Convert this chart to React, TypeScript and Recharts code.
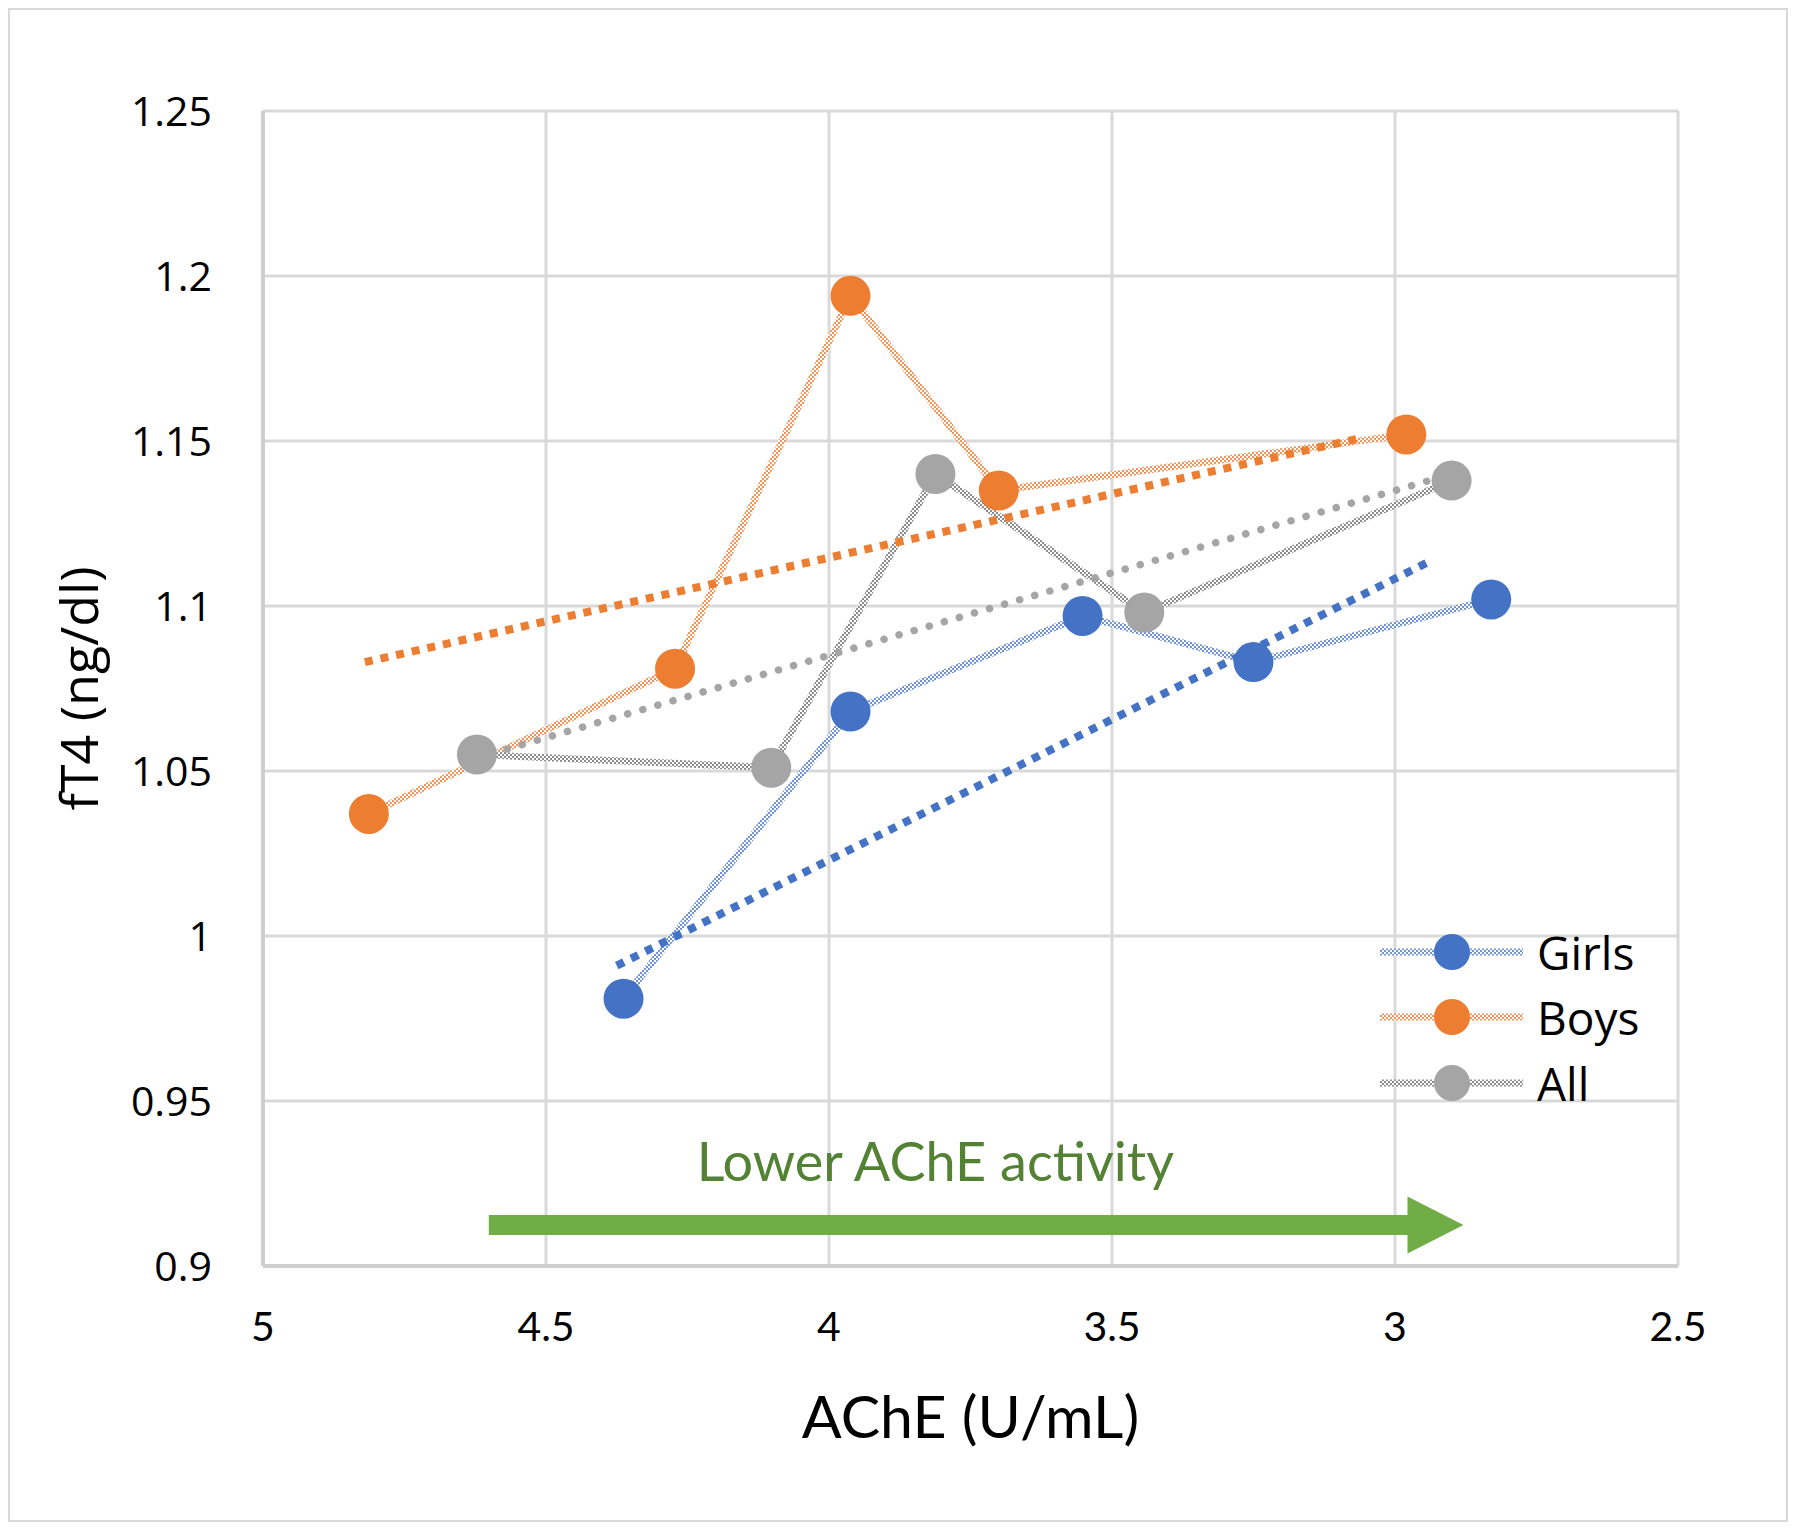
import {
  LineChart,
  Line,
  XAxis,
  YAxis,
  CartesianGrid,
  Legend,
  ReferenceLine,
  ReferenceDot,
} from "recharts";

// AChE (U/mL) on x, fT4 (ng/dl) on y
const girlsAChE = [4.363, 3.962, 3.552, 3.25, 2.83];
const girlsFT4 = [0.981, 1.068, 1.097, 1.083, 1.102];
const boysAChE = [4.813, 4.272, 3.962, 3.7, 2.98];
const boysFT4 = [1.037, 1.081, 1.194, 1.135, 1.152];
const allAChE = [4.622, 4.102, 3.812, 3.443, 2.9];
const allFT4 = [1.055, 1.051, 1.14, 1.098, 1.138];

// linear trendline end points
const girlsTrendAChE = [4.375, 2.933];
const girlsTrendFT4 = [0.991, 1.114];
const boysTrendAChE = [4.82, 3.058];
const boysTrendFT4 = [1.083, 1.151];
const allTrendAChE = [4.622, 2.9];
const allTrendFT4 = [1.054, 1.14];

const xTicks = [5, 4.5, 4, 3.5, 3, 2.5];
const yTicks = [0.9, 0.95, 1, 1.05, 1.1, 1.15, 1.2, 1.25];

// green arrow annotation ("Lower AChE activity")
const arrowAChE = [4.601, 2.879];
const arrowFT4 = 0.9124;
const noteAChE = 3.812;
const noteFT4 = 0.9258;

const zip = (xs: number[], ys: number[]) => xs.map((x, i) => ({ x, y: ys[i] }));

const series = [
  { key: "girls", name: "Girls", color: "#4472C4", hatch: "#6F93D6", x: girlsAChE, y: girlsFT4, tx: girlsTrendAChE, ty: girlsTrendFT4, round: false },
  { key: "boys", name: "Boys", color: "#ED7D31", hatch: "#F1955A", x: boysAChE, y: boysFT4, tx: boysTrendAChE, ty: boysTrendFT4, round: false },
  { key: "all", name: "All", color: "#A5A5A5", hatch: "#8C8C8C", x: allAChE, y: allFT4, tx: allTrendAChE, ty: allTrendFT4, round: true },
];

const LegendBox = () => (
  <div style={{ display: "flex", flexDirection: "column" }}>
    {series.map((s) => (
      <div key={s.key} style={{ display: "flex", alignItems: "center", height: 65.5 }}>
        <svg width={157} height={44}>
          <line x1={0} x2={143} y1={22} y2={22} stroke={`url(#hatch-${s.key})`} strokeWidth={7} />
          <circle cx={72} cy={22} r={18} fill={s.color} />
        </svg>
        <span style={{ fontFamily: "'Open Sans', sans-serif", fontSize: 46, lineHeight: 1, color: "#000" }}>
          {s.name}
        </span>
      </div>
    ))}
  </div>
);

const Arrow = (props: any) => {
  const { x1, y1, x2 } = props;
  const head = 56;
  const half = 10;
  const headHalf = 28.5;
  const xb = x2 - head;
  const pts = [
    [x1, y1 - half],
    [xb, y1 - half],
    [xb, y1 - headHalf],
    [x2, y1],
    [xb, y1 + headHalf],
    [xb, y1 + half],
    [x1, y1 + half],
  ]
    .map((p) => p.join(","))
    .join(" ");
  return <polygon points={pts} fill="#70AD47" />;
};

export default function App() {
  return (
    <div style={{ position: "absolute", left: 0, top: 0, width: 1800, height: 1531, background: "#fff" }}>
      <div
        style={{
          position: "absolute",
          left: 8,
          top: 8,
          width: 1780,
          height: 1514,
          border: "2px solid #d9d9d9",
          boxSizing: "border-box",
        }}
      />
      <LineChart width={1800} height={1531} margin={{ top: 111, right: 122, bottom: 0, left: 0 }}>
        <defs>
          {series.map((s) => (
            <pattern key={s.key} id={`hatch-${s.key}`} width={4} height={4} patternUnits="userSpaceOnUse">
              <rect width={4} height={4} fill="#fff" />
              <rect width={2} height={2} fill={s.hatch} />
              <rect x={2} y={2} width={2} height={2} fill={s.hatch} />
            </pattern>
          ))}
        </defs>
        <CartesianGrid stroke="#d9d9d9" strokeWidth={3} />
        <XAxis
          type="number"
          dataKey="x"
          domain={[2.5, 5]}
          ticks={xTicks}
          reversed
          height={265}
          tickSize={0}
          tickMargin={46}
          axisLine={{ stroke: "#cfcfcf", strokeWidth: 4 }}
          tickLine={false}
          tick={{ fill: "#000", fontSize: 41, fontFamily: "Lato, sans-serif" }}
          label={{
            content: ({ viewBox }: any) => (
              <text
                x={viewBox.x + viewBox.width / 2}
                y={viewBox.y + 172}
                textAnchor="middle"
                fontSize={59}
                fontFamily="Lato, sans-serif"
                fill="#000"
              >
                AChE (U/mL)
              </text>
            ),
          }}
        />
        <YAxis
          type="number"
          domain={[0.9, 1.25]}
          ticks={yTicks}
          width={263}
          tickSize={0}
          tickMargin={51}
          axisLine={{ stroke: "#cfcfcf", strokeWidth: 4 }}
          tickLine={false}
          tickFormatter={(v: number) => String(v)}
          tick={{ fill: "#000", fontSize: 41, fontFamily: "'Open Sans', sans-serif" }}
          label={{
            content: ({ viewBox }: any) => {
              const cx = 98;
              const cy = viewBox.y + viewBox.height / 2;
              return (
                <text
                  x={cx}
                  y={cy}
                  transform={`rotate(-90 ${cx} ${cy})`}
                  textAnchor="middle"
                  fontSize={52}
                  fontFamily="'Open Sans', sans-serif"
                  fill="#000"
                >
                  fT4 (ng/dl)
                </text>
              );
            },
          }}
        />
        {series.map((s) => (
          <Line
            key={`line-${s.key}`}
            data={zip(s.x, s.y)}
            dataKey="y"
            stroke={`url(#hatch-${s.key})`}
            strokeWidth={7}
            dot={false}
            activeDot={false}
            legendType="none"
            isAnimationActive={false}
          />
        ))}
        {series.map((s) => (
          <Line
            key={`trend-${s.key}`}
            data={zip(s.tx, s.ty)}
            dataKey="y"
            stroke={s.color}
            strokeWidth={s.round ? 7.5 : 8}
            strokeDasharray={s.round ? "0.1 15.6" : "8 8"}
            strokeLinecap={s.round ? "round" : "butt"}
            dot={false}
            activeDot={false}
            legendType="none"
            isAnimationActive={false}
          />
        ))}
        {series.map((s) => (
          <Line
            key={`dots-${s.key}`}
            name={s.name}
            data={zip(s.x, s.y)}
            dataKey="y"
            stroke="none"
            dot={{ r: 20, fill: s.color, stroke: "none" }}
            activeDot={false}
            isAnimationActive={false}
          />
        ))}
        <ReferenceLine
          segment={[
            { x: arrowAChE[0], y: arrowFT4 },
            { x: arrowAChE[1], y: arrowFT4 },
          ]}
          shape={Arrow}
        />
        <ReferenceDot
          x={noteAChE}
          y={noteFT4}
          r={0}
          shape={(p: any) => (
            <text x={p.cx} y={p.cy} textAnchor="middle" fontSize={54} fontFamily="Lato, sans-serif" fill="#548235">
              Lower AChE activity
            </text>
          )}
        />
        <Legend
          layout="vertical"
          align="center"
          verticalAlign="middle"
          wrapperStyle={{ left: 1380, top: 919, width: 320 }}
          content={() => <LegendBox />}
        />
      </LineChart>
    </div>
  );
}
